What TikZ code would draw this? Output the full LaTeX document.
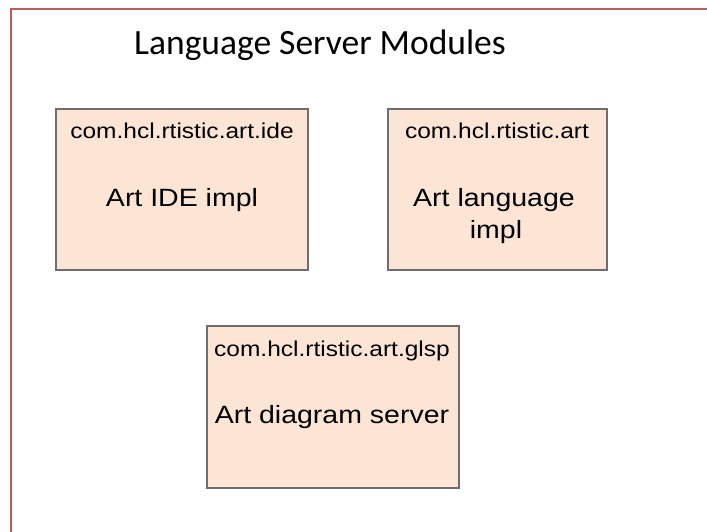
\documentclass[tikz,border=0pt]{standalone}
\usepackage{fontspec}
\usepackage{tikz}
\setmainfont{Liberation Sans}
\newfontfamily\titlefont{Carlito}
\newfontfamily\boxfont[FakeStretch=1.14]{Liberation Sans}
\definecolor{framered}{RGB}{184,92,92}
\definecolor{boxfill}{RGB}{252,229,212}
\definecolor{boxgray}{RGB}{110,110,110}

\begin{document}
\begin{tikzpicture}[x=1pt,y=-1pt,
    module/.style={draw=boxgray,fill=boxfill,line width=1.3pt,inner sep=0pt},
    pkg/.style={anchor=base,inner sep=0pt,font=\boxfont\fontsize{21.5}{26}\selectfont},
    impl/.style={anchor=base,inner sep=0pt,font=\boxfont\fontsize{25}{30}\selectfont}]
    % Page size of the slide
    \useasboundingbox (0,0) rectangle (707,531);
    \clip (0,0) rectangle (707,531);

    % Outer frame, cut by the page edge
    \draw[framered,line width=2pt] (11,9) rectangle (730,560);

    % Title
    \node[anchor=base,inner sep=0pt,font=\titlefont\fontsize{35.5}{40}\selectfont]
        (title) at (320,54) {Language Server Modules};

    % IDE module
    \node[module,minimum width=252pt,minimum height=161pt] (ide) at (182,189.5) {};
    \node[pkg] (idePkg) at (182,138) {com.hcl.rtistic.art.ide};
    \node[impl] (ideImpl) at (182,206) {Art IDE impl};

    % Language module
    \node[module,minimum width=219pt,minimum height=161pt] (lang) at (497.5,189.5) {};
    \node[pkg] (langPkg) at (497,138) {com.hcl.rtistic.art};
    \node[impl] (langImpl) at (494,206) {Art language};
    \node[impl] (langImplB) at (496,238) {impl};

    % Diagram server module
    \node[module,minimum width=252pt,minimum height=162pt] (glsp) at (333,407) {};
    \node[pkg] (glspPkg) at (332,356) {com.hcl.rtistic.art.glsp};
    \node[impl] (glspImpl) at (332,423) {Art diagram server};
\end{tikzpicture}
\end{document}
